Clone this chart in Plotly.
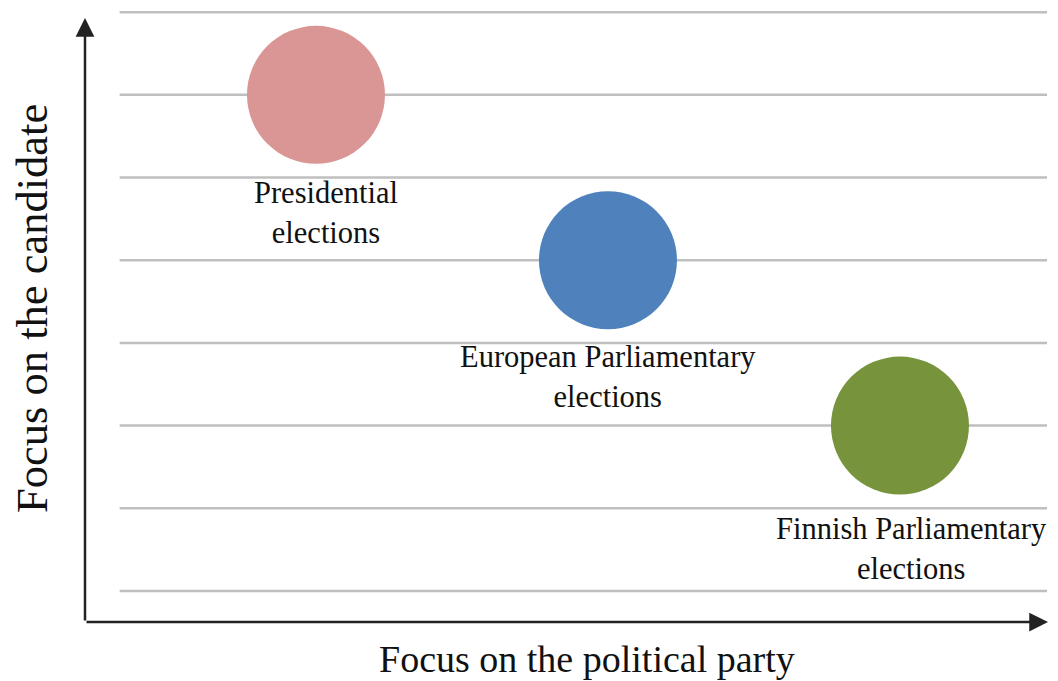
import plotly.graph_objects as go

# Data
labels = ["Presidential<br>elections", "European Parliamentary<br>elections", "Finnish Parliamentary<br>elections"]
party_focus = [1, 2, 3]
candidate_focus = [6, 4, 2]
colors = ["#D99694", "#4F81BD", "#77933C"]
grid_levels = [0, 1, 2, 3, 4, 5, 6, 7]
x_title = "Focus on the political party"
y_title = "Focus on the candidate"

X_RANGE = [0.209, 3.507]
Y_RANGE = [-0.375, 7.05]
label_shifts = [(10, -118), (0, -117), (12, -123)]

fig = go.Figure()
fig.add_trace(go.Scatter(
    x=party_focus, y=candidate_focus, mode="markers",
    marker=dict(size=138, color=colors, line=dict(width=0), opacity=1),
    hoverinfo="skip", showlegend=False,
))

shapes = []
for g in grid_levels:
    shapes.append(dict(type="line", xref="paper", yref="y", x0=0.036, x1=0.999, y0=g, y1=g,
                       line=dict(color="#BFBFBF", width=2.5), layer="below"))

annotations = []
# axis arrows
annotations.append(dict(x=X_RANGE[0], y=6.93, ax=X_RANGE[0], ay=Y_RANGE[0], xref="x", yref="y",
                        axref="x", ayref="y", text="", showarrow=True, arrowhead=2, arrowsize=1.5,
                        arrowwidth=2.5, arrowcolor="#222222", standoff=0, startstandoff=0))
annotations.append(dict(x=X_RANGE[1], y=Y_RANGE[0], ax=X_RANGE[0], ay=Y_RANGE[0], xref="x", yref="y",
                        axref="x", ayref="y", text="", showarrow=True, arrowhead=2, arrowsize=1.5,
                        arrowwidth=2.5, arrowcolor="#222222", standoff=0, startstandoff=0))
for lab, xv, yv, (dx, dy) in zip(labels, party_focus, candidate_focus, label_shifts):
    annotations.append(dict(x=xv, y=yv, xref="x", yref="y", text=lab, showarrow=False,
                            xshift=dx, yshift=dy, align="center",
                            font=dict(family="Liberation Serif", size=30.5, color="#111111")))
annotations.append(dict(x=0.521, y=-0.061, xref="paper", yref="paper", text=x_title, showarrow=False,
                        xanchor="center", yanchor="middle",
                        font=dict(family="Liberation Serif", size=38, color="#111111")))
annotations.append(dict(x=-0.055, y=0.51, xref="paper", yref="paper", text=y_title, showarrow=False,
                        textangle=-90, xanchor="center", yanchor="middle",
                        font=dict(family="Liberation Serif", size=44.5, color="#111111")))

fig.update_layout(
    width=1050, height=673,
    margin=dict(l=77, r=10, t=0, b=59),
    paper_bgcolor="white", plot_bgcolor="white",
    xaxis=dict(range=X_RANGE, visible=False, fixedrange=True),
    yaxis=dict(range=Y_RANGE, visible=False, fixedrange=True),
    shapes=shapes, annotations=annotations,
)
fig.write_html("out.html")
